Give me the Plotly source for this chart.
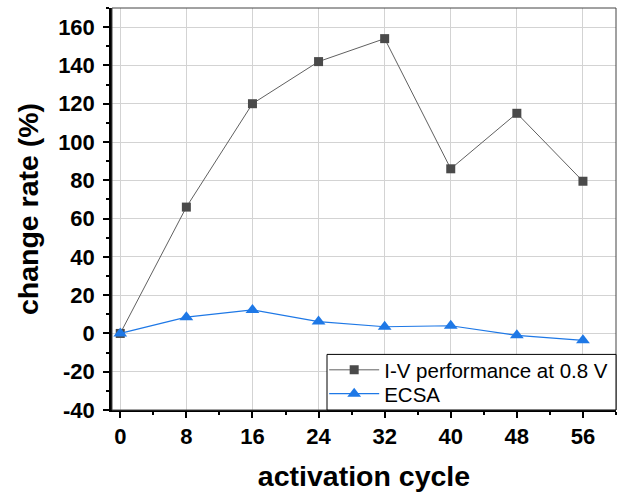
import plotly.graph_objects as go

cycles = [0, 8, 16, 24, 32, 40, 48, 56]
iv_perf = [0, 66, 120, 142, 154, 86, 115, 79.5]
ecsa = [0, 8.5, 12.3, 6.2, 3.5, 4.0, -1.0, -3.6]
y_ticks = [-40, -20, 0, 20, 40, 60, 80, 100, 120, 140, 160]
y_tick_labels = ["-40", "-20", "0", "20", "40", "60", "80", "100", "120", "140", "160"]
x_tick_labels = ["0", "8", "16", "24", "32", "40", "48", "56"]

fig = go.Figure()
fig.add_trace(go.Scatter(
    x=cycles, y=iv_perf, mode="lines+markers", name="I-V performance at 0.8 V",
    line=dict(color="#606060", width=1),
    marker=dict(symbol="square", size=9, color="#4a4a4a"),
    legend="legend",
))
fig.add_trace(go.Scatter(
    x=cycles, y=ecsa, mode="lines+markers", name="ECSA",
    line=dict(color="#1e78e6", width=1.2),
    marker=dict(symbol="triangle-up", size=12, color="#1e78e6"),
    legend="legend2",
))

axis_font = dict(family="Liberation Sans, Arial", size=22, color="black", weight="bold")
title_font = dict(family="Liberation Sans, Arial", size=28.5, color="black", weight="bold")
legend_font = dict(family="Liberation Sans, Arial", size=20.5, color="black")

common_legend = dict(
    xanchor="left", yanchor="middle",
    borderwidth=0, bgcolor="rgba(0,0,0,0)",
    font=legend_font, itemwidth=50,
)

fig.update_layout(
    width=626, height=495,
    margin=dict(l=112, r=10, t=8, b=82),
    plot_bgcolor="white", paper_bgcolor="white",
    showlegend=True,
    legend=dict(x=0.421, y=0.0995, **common_legend),
    legend2=dict(x=0.421, y=0.0402, **common_legend),
    xaxis=dict(
        range=[-1, 60], tickmode="array", tickvals=cycles,
        ticktext=x_tick_labels,
        showgrid=True, gridcolor="#d3d3d3", gridwidth=1,
        zeroline=False,
        showline=True, linecolor="black", linewidth=2,
        ticks="outside", ticklen=6, tickwidth=2, tickcolor="black",
        minor=dict(dtick=4, tick0=0, ticks="outside", ticklen=3, tickwidth=1.5, tickcolor="black", showgrid=False),
        tickfont=axis_font,
        title=dict(text="activation cycle", font=title_font, standoff=18),
    ),
    yaxis=dict(
        range=[-40, 170], tickmode="array", tickvals=y_ticks, ticktext=y_tick_labels,
        showgrid=True, gridcolor="#d3d3d3", gridwidth=1,
        zeroline=False,
        showline=True, linecolor="black", linewidth=2.5,
        ticks="outside", ticklen=6, tickwidth=2, tickcolor="black",
        minor=dict(dtick=10, tick0=0, ticks="outside", ticklen=3, tickwidth=1.5, tickcolor="black", showgrid=False),
        tickfont=axis_font, ticklabelstandoff=4,
        title=dict(text="change rate (%)", font=title_font, standoff=12),
    ),
)

# plot frame (thin top/right)
fig.add_shape(type="rect", xref="paper", yref="paper", x0=0, y0=0, x1=1, y1=1,
              line=dict(color="#444444", width=1), layer="above")
# legend box
fig.add_shape(type="rect", xref="paper", yref="paper", x0=0.4266, y0=0, x1=1, y1=0.1383,
              line=dict(color="black", width=1), fillcolor="white", layer="above")

fig.write_html("out.html")
